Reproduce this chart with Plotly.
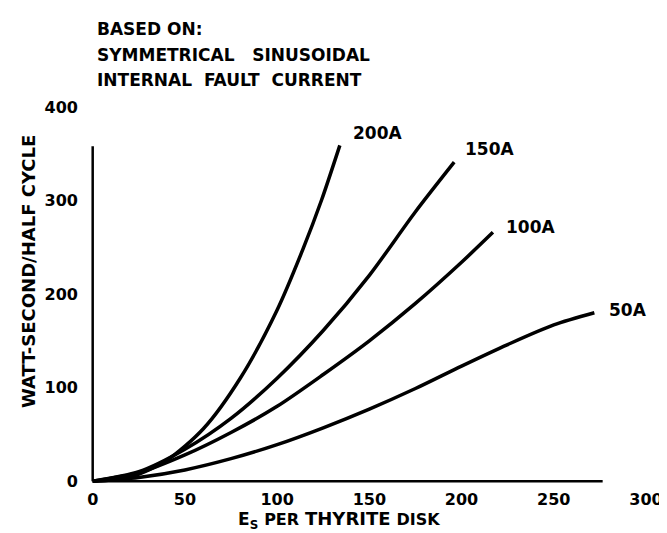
import plotly.graph_objects as go

# ---- data ----
x_50 = [0, 25, 50, 75, 100, 125, 150, 175, 200, 225, 250, 272]
y_50 = [0, 4, 12, 24, 39, 57, 77, 99, 123, 146, 167, 180]

x_100 = [0, 25, 50, 75, 100, 125, 150, 175, 200, 217]
y_100 = [0, 9, 28, 52, 80, 114, 150, 190, 234, 266]

x_150 = [0, 25, 50, 75, 100, 125, 150, 175, 196]
y_150 = [0, 10, 34, 67, 110, 161, 220, 288, 341]

x_200 = [0, 20, 40, 60, 80, 100, 114, 124, 134]
y_200 = [0, 4, 22, 56, 110, 183, 248, 300, 359]

curve_labels = ["50A", "100A", "150A", "200A"]
label_x = [279, 223, 201, 140]
label_y = [183, 272, 355, 372]

x_ticks = [0, 50, 100, 150, 200, 250, 300]
y_ticks = [0, 100, 200, 300, 400]
x_axis_end = 276.5
y_axis_end = 358

title_lines = ["BASED ON:", "SYMMETRICAL\u00a0\u00a0 SINUSOIDAL", "INTERNAL\u00a0 FAULT\u00a0 CURRENT"]
x_title = ("E<sub>S</sub> <span style='font-size:16px'>PER</span> "
           "<span style='font-size:18px'>THYRITE</span> <span style='font-size:16px'>DISK</span>")
y_title = "WATT-SECOND/HALF CYCLE"

FONT = "DejaVu Sans, Verdana, sans-serif"

W, H = 667, 533
l, r, t, b = 81.2, 18, 98.6, 57.6
pw, ph = W - l - r, H - t - b
def px_to_paper(px, py):
    return (px - l) / pw, (H - b - py) / ph

fig = go.Figure()
for xs, ys in [(x_50, y_50), (x_100, y_100), (x_150, y_150), (x_200, y_200)]:
    fig.add_trace(go.Scatter(x=xs, y=ys, mode="lines",
                             line=dict(color="black", width=3.5, shape="spline", smoothing=0.8),
                             cliponaxis=False, hoverinfo="skip", showlegend=False))

for tx, lx, ly in zip(curve_labels, label_x, label_y):
    fig.add_annotation(x=lx, y=ly, text="<b>" + tx + "</b>", showarrow=False,
                       xanchor="left", yanchor="middle",
                       font=dict(family=FONT, size=17, color="black"))

# axis lines (partial length as in reference)
fig.add_shape(type="line", x0=0, y0=0, x1=x_axis_end, y1=0, xref="x", yref="y",
              line=dict(color="black", width=2.5))
fig.add_shape(type="line", x0=0, y0=0, x1=0, y1=y_axis_end, xref="x", yref="y",
              line=dict(color="black", width=2.5))

for i, (line, py) in enumerate(zip(title_lines, [20, 46.5, 72])):
    xx, yy = px_to_paper(87, py)
    fig.add_annotation(x=xx, y=yy, xref="paper", yref="paper", text="<b>" + line + "</b>",
                       showarrow=False, xanchor="left", yanchor="middle",
                       font=dict(family=FONT, size=17, color="black"))

xt, yt = px_to_paper(336, 512)
fig.add_annotation(x=xt, y=yt, xref="paper", yref="paper", text="<b>" + x_title + "</b>",
                   showarrow=False, xanchor="center", yanchor="middle",
                   font=dict(family=FONT, size=17, color="black"))
xt, yt = px_to_paper(19, 263)
fig.add_annotation(x=xt, y=yt, xref="paper", yref="paper", text="<b>" + y_title + "</b>",
                   showarrow=False, xanchor="center", yanchor="middle", textangle=-90,
                   font=dict(family=FONT, size=18, color="black"))

fig.update_layout(
    width=W, height=H,
    margin=dict(l=l, r=r, t=t, b=b),
    paper_bgcolor="white", plot_bgcolor="white",
    xaxis=dict(range=[-2, 300], tickvals=x_ticks, ticktext=[f"<b>{v}</b>" for v in x_ticks],
               showgrid=False, zeroline=False, showline=False, ticks="",
               ticklabelstandoff=5,
               tickfont=dict(family=FONT, size=16, color="black")),
    yaxis=dict(range=[-2, 400], tickvals=y_ticks, ticktext=[f"<b>{v}</b>" for v in y_ticks],
               showgrid=False, zeroline=False, showline=False, ticks="",
               ticklabelstandoff=10,
               tickfont=dict(family=FONT, size=16, color="black")),
)

fig.write_html("out.html")
